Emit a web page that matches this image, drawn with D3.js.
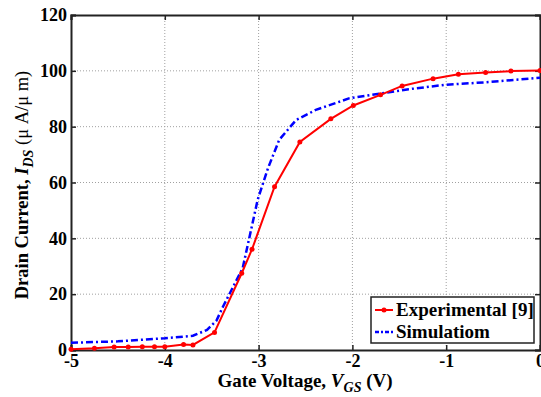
<!DOCTYPE html>
<html><head><meta charset="utf-8">
<script src="https://cdn.jsdelivr.net/npm/d3@7"></script>
<style>body{margin:0;background:#fff;} svg text{font-family:"Liberation Serif","DejaVu Serif",serif;font-weight:bold;}</style>
</head><body>
<script>
const expV = [-5,-4.75,-4.54,-4.39,-4.24,-4.11,-4.0,-3.8,-3.7,-3.47,-3.18,-3.07,-2.83,-2.56,-2.23,-1.99,-1.70,-1.47,-1.14,-0.87,-0.58,-0.31,0];
const expI = [0.3,0.6,1.1,1.1,1.2,1.2,1.2,2.0,1.8,6.3,27.5,36.1,58.5,74.5,82.8,87.6,91.4,94.6,97.2,98.8,99.4,99.9,100.1];
const simV = [-5,-4.5,-4,-3.7,-3.55,-3.45,-3.38,-3.17,-3.01,-2.9,-2.78,-2.6,-2.39,-2.03,-1.68,-1.40,-1.01,-0.58,0];
const simI = [2.6,3.1,4.2,5.1,7.2,10.5,15.5,29.3,53.8,65.1,75.3,82.4,86,90.2,92,93.4,95,95.9,97.5];
const xTicks = [-5,-4,-3,-2,-1,0];
const yTicks = [0,20,40,60,80,100,120];
const seriesNames = ["Experimental [9]","Simulatiom"];

const W=541,H=397, L=71, R=540, T=15, B=350;
const svg=d3.select("body").append("svg").attr("width",W).attr("height",H).style("display","block");
const x=d3.scaleLinear().domain([-5,0]).range([L,R]);
const y=d3.scaleLinear().domain([0,120]).range([B,T]);
const fmt=d=>String(d).replace("\u2212","-");

// grid
const g=svg.append("g");
g.selectAll(".gx").data(xTicks.slice(1,-1)).enter().append("line")
  .attr("x1",d=>x(d)).attr("x2",d=>x(d)).attr("y1",T).attr("y2",B)
  .attr("stroke","#a0a0a0").attr("stroke-width",1).attr("stroke-dasharray","1,2");
g.selectAll(".gy").data(yTicks.slice(1,-1)).enter().append("line")
  .attr("y1",d=>y(d)).attr("y2",d=>y(d)).attr("x1",L).attr("x2",R)
  .attr("stroke","#a0a0a0").attr("stroke-width",1).attr("stroke-dasharray","1,2");

// axes with inward ticks
const ax=d3.axisBottom(x).tickValues(xTicks).tickSize(-5).tickPadding(4).tickFormat(fmt);
const ay=d3.axisLeft(y).tickValues(yTicks).tickSize(-5).tickPadding(4).tickFormat(fmt);
const gx=svg.append("g").attr("transform",`translate(0,${B})`).call(ax);
const gy=svg.append("g").attr("transform",`translate(${L},0)`).call(ay);
svg.append("g").attr("transform",`translate(0,${T})`).call(d3.axisTop(x).tickValues(xTicks).tickSize(-5).tickFormat(""));
svg.append("g").attr("transform",`translate(${R},0)`).call(d3.axisRight(y).tickValues(yTicks).tickSize(-5).tickFormat(""));
svg.selectAll("g").attr("font-family",null).attr("font-size",null);
svg.selectAll(".domain").attr("stroke","#222").attr("stroke-width",2);
svg.selectAll(".tick line").attr("stroke","#222").attr("stroke-width",1.5);
svg.selectAll(".tick text").attr("fill","#000").style("font-size","18px");
gx.selectAll(".tick text").attr("dy","0.71em");

// lines
const line=d3.line().x(d=>x(d[0])).y(d=>y(d[1]));
const simData=simV.map((v,i)=>[v,simI[i]]);
const expData=expV.map((v,i)=>[v,expI[i]]);
svg.append("path").datum(simData).attr("d",line).attr("fill","none")
  .attr("stroke","#0000ff").attr("stroke-width",2.5).attr("stroke-dasharray","7,3,2,3");
svg.append("path").datum(expData).attr("d",line).attr("fill","none")
  .attr("stroke","#ff0000").attr("stroke-width",2);
svg.selectAll(".m").data(expData).enter().append("circle")
  .attr("cx",d=>x(d[0])).attr("cy",d=>y(d[1])).attr("r",2.5).attr("fill","#ff0000");

// legend
const lg=svg.append("g");
lg.append("rect").attr("x",371).attr("y",297).attr("width",163).attr("height",46)
  .attr("fill","#fff").attr("stroke","#222").attr("stroke-width",1.5);
const rows=[{c:"#ff0000",dash:null,yy:310},{c:"#0000ff",dash:"4,2,2,2",yy:332}];
rows.forEach((r,i)=>{
  const ln=lg.append("line").attr("x1",375).attr("x2",393).attr("y1",r.yy).attr("y2",r.yy)
    .attr("stroke",r.c).attr("stroke-width",i?2.5:2);
  if(r.dash) ln.attr("stroke-dasharray",r.dash);
  if(!i) lg.append("circle").attr("cx",384).attr("cy",r.yy).attr("r",2.5).attr("fill",r.c);
  lg.append("text").attr("x",396).attr("y",r.yy+6).text(seriesNames[i]).style("font-size","19px");
});

// axis titles
const xt=svg.append("text").attr("x",305).attr("y",387).attr("text-anchor","middle").style("font-size","19px");
xt.append("tspan").text("Gate Voltage, ");
xt.append("tspan").text("V").style("font-style","italic");
xt.append("tspan").text("GS").style("font-style","italic").style("font-size","14px").attr("dy",5);
xt.append("tspan").text(" (V)").attr("dy",-5);

const yt=svg.append("text").attr("transform","translate(28,185) rotate(-90)").attr("text-anchor","middle").style("font-size","18.5px");
yt.append("tspan").text("Drain Current, ");
yt.append("tspan").text("I").style("font-style","italic");
yt.append("tspan").text("DS").style("font-style","italic").style("font-size","14px").attr("dy",5);
yt.append("tspan").text(" (\u03bc A/\u03bc m)").style("font-weight","normal").attr("dy",-5);
</script>
</body></html>
